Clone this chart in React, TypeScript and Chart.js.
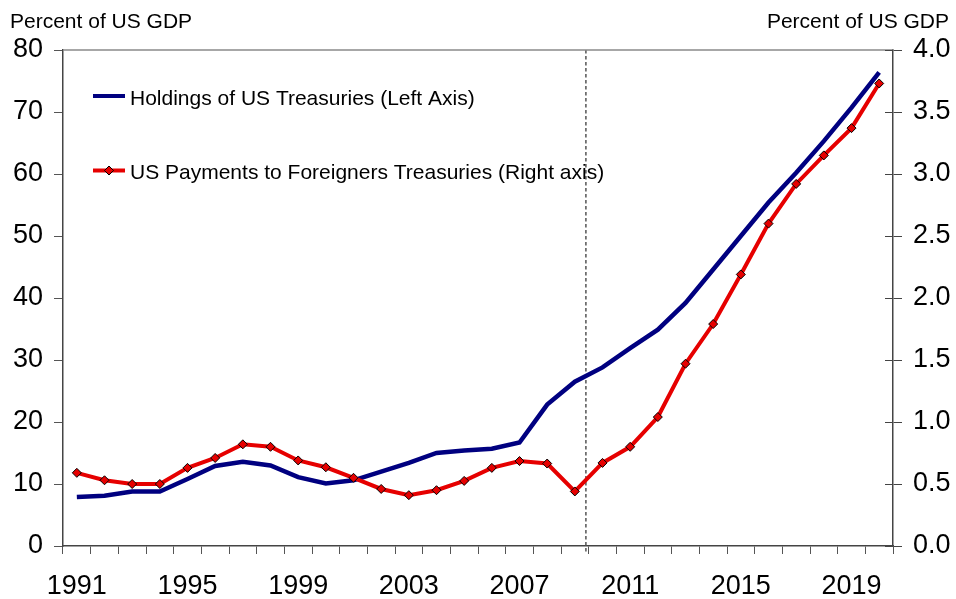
import React, { useEffect, useRef } from 'react';
import { Chart, registerables } from 'chart.js';

Chart.register(...registerables);

const years = [
  '1991', '1992', '1993', '1994', '1995', '1996', '1997', '1998', '1999', '2000',
  '2001', '2002', '2003', '2004', '2005', '2006', '2007', '2008', '2009', '2010',
  '2011', '2012', '2013', '2014', '2015', '2016', '2017', '2018', '2019', '2020',
];

// Holdings of US Treasuries, percent of US GDP (left axis)
const holdings = [
  7.9, 8.1, 8.8, 8.8, 10.8, 12.9, 13.6, 13.0, 11.1, 10.1,
  10.6, 12.0, 13.4, 15.0, 15.4, 15.7, 16.7, 22.8, 26.5, 28.8,
  31.9, 34.9, 39.2, 44.6, 50.0, 55.4, 60.2, 65.3, 70.7, 76.4,
];

// US payments to foreigners on Treasuries, percent of US GDP (right axis)
const payments = [
  0.59, 0.53, 0.5, 0.5, 0.63, 0.71, 0.82, 0.8, 0.69, 0.635,
  0.55, 0.46, 0.41, 0.45, 0.525, 0.63, 0.685, 0.665, 0.44, 0.67,
  0.8, 1.04, 1.47, 1.79, 2.19, 2.6, 2.92, 3.15, 3.37, 3.73,
];

const leftAxis = { min: 0, max: 80, step: 10 };
const rightAxis = { min: 0, max: 4, step: 0.5 };
const dashedLineAt = 2009.4;
const labelEvery = 4;

const axisUnitText = 'Percent of US GDP';
const legendHoldings = 'Holdings of US Treasuries (Left Axis)';
const legendPayments = 'US Payments to Foreigners Treasuries (Right axis)';

const FONT = '"Liberation Sans", Arial, Helvetica, sans-serif';
const BLUE = '#000080';
const RED = '#e60000';

function drawDiamond(ctx: CanvasRenderingContext2D, x: number, y: number, r: number) {
  ctx.beginPath();
  ctx.moveTo(x, y - r);
  ctx.lineTo(x + r, y);
  ctx.lineTo(x, y + r);
  ctx.lineTo(x - r, y);
  ctx.closePath();
  ctx.fillStyle = RED;
  ctx.fill();
  ctx.lineWidth = 1;
  ctx.strokeStyle = '#000';
  ctx.stroke();
}

export default function App() {
  const ref = useRef<HTMLCanvasElement>(null);

  useEffect(() => {
    document.body.style.margin = '0';
    const canvas = ref.current;
    if (!canvas) return;

    const overlay = {
      id: 'overlay',
      beforeDatasetsDraw(chart: any) {
        const { ctx, chartArea } = chart;
        const x = chart.scales.x.getPixelForValue(dashedLineAt - Number(years[0]));
        ctx.save();
        ctx.strokeStyle = '#555';
        ctx.lineWidth = 1.5;
        ctx.setLineDash([3.5, 2.5]);
        ctx.beginPath();
        ctx.moveTo(x, chartArea.top);
        ctx.lineTo(x, chartArea.bottom + 6);
        ctx.stroke();
        ctx.restore();
      },
      afterDraw(chart: any) {
        const { ctx, chartArea } = chart;
        ctx.save();
        // top border of plot area
        ctx.strokeStyle = '#8a8a8a';
        ctx.lineWidth = 1.5;
        ctx.beginPath();
        ctx.moveTo(chartArea.left, chartArea.top);
        ctx.lineTo(chartArea.right, chartArea.top);
        ctx.stroke();

        // inner tick marks on right axis
        const y1 = chart.scales.y1;
        ctx.strokeStyle = '#444';
        ctx.lineWidth = 1;
        y1.ticks.forEach((t: any) => {
          const yy = Math.round(y1.getPixelForValue(t.value)) + 0.5;
          ctx.beginPath();
          ctx.moveTo(chartArea.right - 8, yy);
          ctx.lineTo(chartArea.right, yy);
          ctx.stroke();
        });

        // axis unit labels
        ctx.fillStyle = '#000';
        ctx.font = `21px ${FONT}`;
        ctx.textBaseline = 'alphabetic';
        ctx.textAlign = 'left';
        ctx.fillText(axisUnitText, 10, 27.5);
        ctx.textAlign = 'right';
        ctx.fillText(axisUnitText, 949, 27.5);

        // legend
        const lx0 = chartArea.left + 30;
        const lx1 = chartArea.left + 62;
        const rows = [
          { y: chartArea.top + 46, color: BLUE, text: legendHoldings, marker: false },
          { y: chartArea.top + 120.5, color: RED, text: legendPayments, marker: true },
        ];
        ctx.font = `21px ${FONT}`;
        ctx.textAlign = 'left';
        rows.forEach((r) => {
          ctx.strokeStyle = r.color;
          ctx.lineWidth = 4;
          ctx.lineCap = 'butt';
          ctx.beginPath();
          ctx.moveTo(lx0, r.y);
          ctx.lineTo(lx1, r.y);
          ctx.stroke();
          if (r.marker) drawDiamond(ctx, (lx0 + lx1) / 2, r.y, 4.5);
          ctx.fillStyle = '#000';
          ctx.fillText(r.text, lx1 + 5, r.y + 8.5);
        });
        ctx.restore();
      },
    };

    const chart = new Chart(canvas, {
      type: 'line',
      data: {
        labels: years,
        datasets: [
          {
            label: legendPayments,
            data: payments,
            yAxisID: 'y1',
            borderColor: RED,
            backgroundColor: RED,
            borderWidth: 4,
            pointStyle: 'rectRot',
            pointRadius: 4.5,
            pointBackgroundColor: RED,
            pointBorderColor: '#000',
            pointBorderWidth: 1,
            tension: 0,
            order: 0,
          },
          {
            label: legendHoldings,
            data: holdings,
            yAxisID: 'y',
            borderColor: BLUE,
            backgroundColor: BLUE,
            borderWidth: 4.5,
            pointRadius: 0,
            tension: 0,
            order: 1,
          },
        ],
      },
      options: {
        responsive: false,
        animation: false,
        events: [],
        layout: { padding: { top: 50, left: 0, right: 0, bottom: 0 } },
        plugins: {
          legend: { display: false },
          tooltip: { enabled: false },
          title: { display: false },
        },
        scales: {
          x: {
            type: 'category',
            offset: true,
            grid: {
              offset: true,
              drawOnChartArea: false,
              drawTicks: true,
              tickLength: 8,
              color: '#555',
              lineWidth: 1,
            },
            border: { color: '#444', width: 1.5 },
            ticks: {
              autoSkip: false,
              maxRotation: 0,
              minRotation: 0,
              padding: 16,
              color: '#000',
              font: { size: 27, family: FONT },
              callback: (_v: any, i: number) => (i % labelEvery === 0 ? years[i] : ''),
            },
            afterFit: (s: any) => {
              s.height = 53;
            },
          },
          y: {
            position: 'left',
            min: leftAxis.min,
            max: leftAxis.max,
            grid: { drawOnChartArea: false, tickLength: 9, color: '#555', lineWidth: 1 },
            border: { color: '#444', width: 1.5 },
            ticks: {
              stepSize: leftAxis.step,
              padding: 11,
              color: '#000',
              font: { size: 27, family: FONT },
            },
            afterFit: (s: any) => {
              s.width = 63;
            },
          },
          y1: {
            position: 'right',
            min: rightAxis.min,
            max: rightAxis.max,
            grid: { drawOnChartArea: false, tickLength: 9, color: '#444', lineWidth: 1 },
            border: { color: '#444', width: 1.5 },
            ticks: {
              stepSize: rightAxis.step,
              padding: 11,
              color: '#000',
              font: { size: 27, family: FONT },
              callback: (v: any) => Number(v).toFixed(1),
            },
            afterFit: (s: any) => {
              s.width = 63;
            },
          },
        },
      },
      plugins: [overlay],
    });

    return () => chart.destroy();
  }, []);

  return (
    <div style={{ width: 956, height: 599 }}>
      <canvas ref={ref} width={956} height={599} style={{ display: 'block' }} />
    </div>
  );
}
